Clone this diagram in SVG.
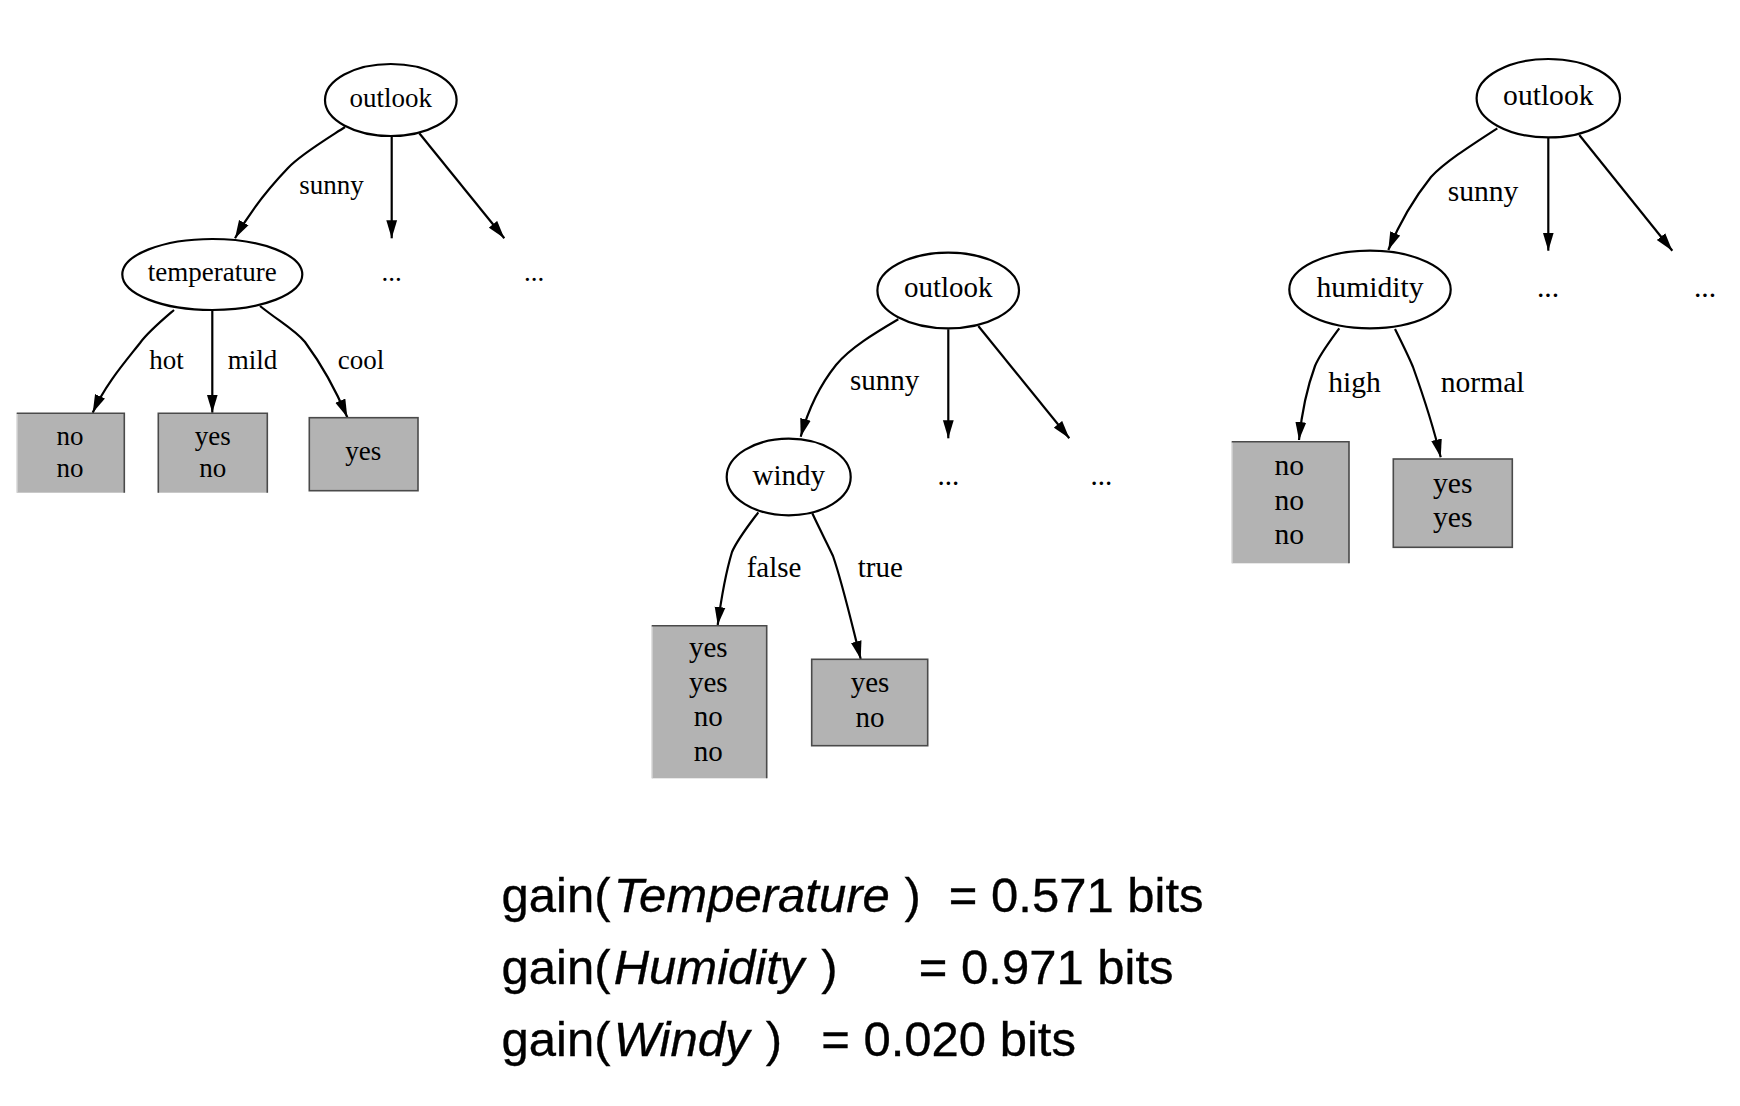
<svg xmlns="http://www.w3.org/2000/svg" width="1740" height="1106" viewBox="0 0 1740 1106">
<defs>
<marker id="arr" markerUnits="userSpaceOnUse" markerWidth="20" markerHeight="12" refX="18" refY="6" orient="auto">
<path d="M0,0.6 L18,6 L0,11.4 Z" fill="#000"/>
</marker>
<style>
.t1{font-family:"Liberation Serif","Times New Roman",serif;font-size:27px;fill:#000}
.t2{font-family:"Liberation Serif","Times New Roman",serif;font-size:29px;fill:#000}
.t3{font-family:"Liberation Serif","Times New Roman",serif;font-size:29.6px;fill:#000}
.c{text-anchor:middle}
.node{fill:#fff;stroke:#000;stroke-width:2.2}
.leaf{fill:#b3b3b3}
.bd{fill:none;stroke:#4a4a4a;stroke-width:1.6}
.bl{fill:none;stroke:#d0d0d0;stroke-width:1.2}
.edge{fill:none;stroke:#000;stroke-width:2.2;marker-end:url(#arr)}
.f{font-family:"Liberation Sans",Arial,Helvetica,sans-serif;font-size:49px;fill:#000;stroke:#000;stroke-width:0.35}
.i{font-style:italic}
</style>
</defs>
<rect width="1740" height="1106" fill="#fff"/>

<!-- Tree 1 -->
<g id="connectors-tree1">
<path class="edge" d="M345,127 C325,140 300,155 288,168 C265,192 248,215 235,238.3"/>
<path class="edge" d="M391.7,136.7 L391.7,238.3"/>
<path class="edge" d="M419.3,133.3 L504.3,238.3"/>
<path class="edge" d="M174,310 C160,322 148,332 140,343 C125,362 105,385 92.7,412.7"/>
<path class="edge" d="M212.3,311 L212.3,412.7"/>
<path class="edge" d="M260,306 C280,322 295,330 305,342 C322,365 335,388 347.3,417.3"/>
<text class="t1" x="299.3" y="194">sunny</text>
<text class="t1" x="149.3" y="369">hot</text>
<text class="t1" x="227.7" y="369">mild</text>
<text class="t1" x="337.7" y="369">cool</text>
</g>
<g id="t1-outlook">
<ellipse class="node" cx="390.8" cy="100" rx="65.8" ry="36"/>
<text class="t1 c" x="390.8" y="106.7">outlook</text>
</g>
<g id="t1-more1"><text class="t1 c" x="391.7" y="281">...</text></g>
<g id="t1-more2"><text class="t1 c" x="534" y="281">...</text></g>
<g id="t1-temperature">
<ellipse class="node" cx="212.3" cy="274.5" rx="90" ry="35.5"/>
<text class="t1 c" x="212.3" y="281">temperature</text>
</g>
<g id="t1-hot-leaf">
<rect class="leaf" x="16.7" y="413.3" width="107.6" height="79.4"/>
<path class="bl" d="M17.3,492.7 V413.3"/>
<path class="bd" d="M16.7,413.3 H124.3 V492.7"/>
<text class="t1 c" x="70" y="445">no</text>
<text class="t1 c" x="70" y="476.7">no</text>
</g>
<g id="t1-mild-leaf">
<rect class="leaf" x="158.3" y="413.3" width="109" height="79.4"/>
<path class="bd" d="M158.3,492.7 V413.3 H267.3 V492.7"/>
<text class="t1 c" x="212.7" y="445">yes</text>
<text class="t1 c" x="212.7" y="476.7">no</text>
</g>
<g id="t1-cool-leaf">
<rect class="leaf" x="309.3" y="417.7" width="108.7" height="73"/>
<rect class="bd" x="309.3" y="417.7" width="108.7" height="73"/>
<text class="t1 c" x="363.3" y="460">yes</text>
</g>

<!-- Tree 2 -->
<g id="connectors-tree2">
<path class="edge" d="M898.3,319.3 C875,333 850,348 836,365 C820,385 808,410 800.7,436.7"/>
<path class="edge" d="M948.3,329.3 L948.3,438.3"/>
<path class="edge" d="M978.3,326 L1069.3,438.3"/>
<path class="edge" d="M758.3,512.3 C748,526 737,540 732,552 C726,572 721,600 717.7,625"/>
<path class="edge" d="M812.3,513.3 C820,530 828,545 833,556 C843,585 852,625 860.7,659"/>
<text class="t2" x="850" y="390">sunny</text>
<text class="t2" x="746.7" y="576.7">false</text>
<text class="t2" x="857.7" y="576.7">true</text>
</g>
<g id="t2-outlook">
<ellipse class="node" cx="948.2" cy="290.5" rx="70.8" ry="37.8"/>
<text class="t2 c" x="948.2" y="297.3">outlook</text>
</g>
<g id="t2-more1"><text class="t2 c" x="948.3" y="485">...</text></g>
<g id="t2-more2"><text class="t2 c" x="1101.3" y="485">...</text></g>
<g id="t2-windy">
<ellipse class="node" cx="788.7" cy="477" rx="62" ry="38.3"/>
<text class="t2 c" x="788.7" y="484.5">windy</text>
</g>
<g id="t2-false-leaf">
<rect class="leaf" x="651.7" y="625.7" width="115" height="152.6"/>
<path class="bl" d="M652.3,778.3 V625.7"/>
<path class="bd" d="M651.7,625.7 H766.7 V778.3"/>
<text class="t2 c" x="708.3" y="657">yes</text>
<text class="t2 c" x="708.3" y="691.5">yes</text>
<text class="t2 c" x="708.3" y="726">no</text>
<text class="t2 c" x="708.3" y="760.5">no</text>
</g>
<g id="t2-true-leaf">
<rect class="leaf" x="811.7" y="659.3" width="116" height="86.4"/>
<rect class="bd" x="811.7" y="659.3" width="116" height="86.4"/>
<text class="t2 c" x="870" y="691.7">yes</text>
<text class="t2 c" x="870" y="726.7">no</text>
</g>

<!-- Tree 3 -->
<g id="connectors-tree3">
<path class="edge" d="M1497.3,128.3 C1470,146 1445,162 1431,177 C1415,197 1400,222 1388.3,250"/>
<path class="edge" d="M1548.3,137.7 L1548.3,250.7"/>
<path class="edge" d="M1579.3,135 L1672.3,250.7"/>
<path class="edge" d="M1339.3,328.3 C1330,341 1320,354 1315,366 C1308,385 1302,410 1299,440"/>
<path class="edge" d="M1395,329 C1402,343 1408,355 1413,367 C1423,395 1433,425 1440.7,457.3"/>
<text class="t3" x="1447.7" y="201">sunny</text>
<text class="t3" x="1328.3" y="391.7">high</text>
<text class="t3" x="1440.7" y="391.7">normal</text>
</g>
<g id="t3-outlook">
<ellipse class="node" cx="1548.3" cy="98.2" rx="71.7" ry="39.2"/>
<text class="t3 c" x="1548.3" y="105">outlook</text>
</g>
<g id="t3-more1"><text class="t3 c" x="1548" y="296.7">...</text></g>
<g id="t3-more2"><text class="t3 c" x="1705" y="296.7">...</text></g>
<g id="t3-humidity">
<ellipse class="node" cx="1370" cy="289.5" rx="80.7" ry="38.8"/>
<text class="t3 c" x="1370" y="296.7">humidity</text>
</g>
<g id="t3-high-leaf">
<rect class="leaf" x="1231.7" y="441.7" width="117.3" height="121.6"/>
<path class="bl" d="M1232.3,563.3 V441.7"/>
<path class="bd" d="M1231.7,441.7 H1349 V563.3"/>
<text class="t3 c" x="1289.3" y="475">no</text>
<text class="t3 c" x="1289.3" y="510">no</text>
<text class="t3 c" x="1289.3" y="544.3">no</text>
</g>
<g id="t3-normal-leaf">
<rect class="leaf" x="1393.3" y="459" width="119" height="88.3"/>
<rect class="bd" x="1393.3" y="459" width="119" height="88.3"/>
<text class="t3 c" x="1452.7" y="492.7">yes</text>
<text class="t3 c" x="1452.7" y="526.7">yes</text>
</g>

<!-- Gains -->
<g id="gains">
<text class="f" y="912"><tspan x="501.6">gain(</tspan><tspan class="i" x="613.7">Temperature</tspan><tspan x="904.4">)</tspan><tspan x="948.8">= 0.571 bits</tspan></text>
<text class="f" y="984"><tspan x="501.6">gain(</tspan><tspan class="i" x="613.7">Humidity</tspan><tspan x="821.2">)</tspan><tspan x="918.8">= 0.971 bits</tspan></text>
<text class="f" y="1056"><tspan x="501.6">gain(</tspan><tspan class="i" x="613.7">Windy</tspan><tspan x="765.7">)</tspan><tspan x="821.2">= 0.020 bits</tspan></text>
</g>
</svg>
